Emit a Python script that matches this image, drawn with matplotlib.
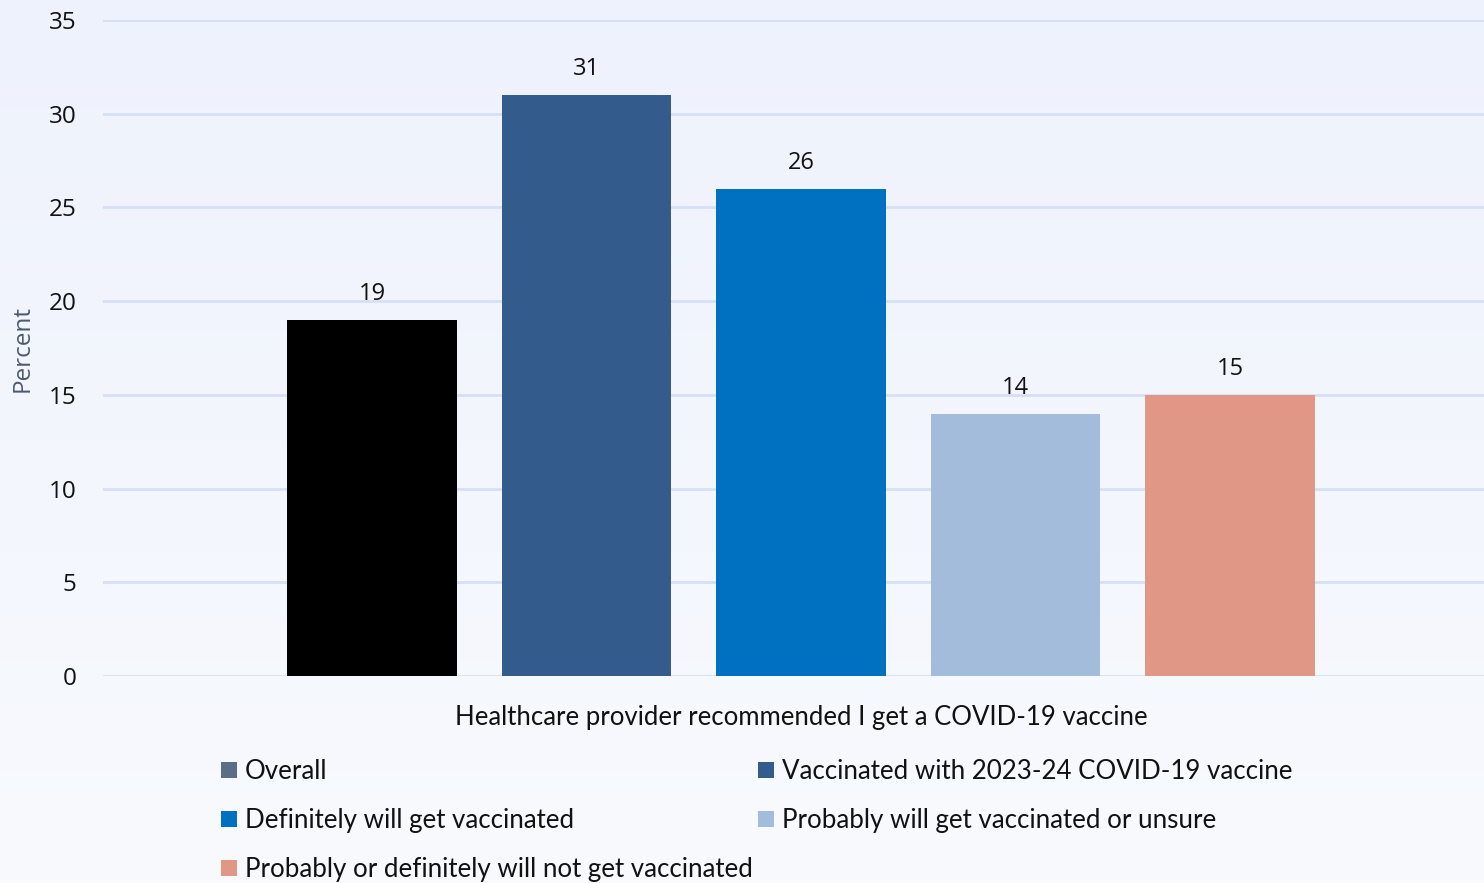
import matplotlib.pyplot as plt
import numpy as np
from matplotlib.colors import LinearSegmentedColormap
from matplotlib.patches import Patch

# data
category = 'Healthcare provider recommended I get a COVID-19 vaccine'
groups = ['Overall',
          'Vaccinated with 2023-24 COVID-19 vaccine',
          'Definitely will get vaccinated',
          'Probably will get vaccinated or unsure',
          'Probably or definitely will not get vaccinated']
values = [19, 31, 26, 14, 15]
bar_colors = ['#000000', '#335c8d', '#0070c0', '#a3bcdc', '#e09785']
legend_colors = ['#5a6e87', '#335c8d', '#0070c0', '#a3bcdc', '#e09785']
yticks = [0, 5, 10, 15, 20, 25, 30, 35]

fig = plt.figure(figsize=(14.84, 8.83), dpi=100)

# background gradient
bg = fig.add_axes([0, 0, 1, 1], zorder=-10)
grad = np.linspace(0, 1, 256).reshape(-1, 1)
cm_bg = LinearSegmentedColormap.from_list('bg', ['#eef2fc', '#f8fafe'])
bg.imshow(grad, aspect='auto', cmap=cm_bg, extent=[0, 1, 0, 1])
bg.axis('off')

ax = fig.add_axes([103/1484, (883-676)/883, (1499-103)/1484, (676-20)/883])
ax.set_facecolor('none')

offsets = np.arange(len(values)) - 2
w = 0.788
ax.bar(offsets, values, width=w, color=bar_colors, zorder=3)
for x, v in zip(offsets, values):
    ax.annotate(str(v), (x, v), xytext=(0, 10), textcoords='offset points',
                ha='center', va='bottom', fontsize=17, family='Open Sans', color='#111111')

ax.set_xlim(-3.254, 3.254)
ax.set_ylim(0, 35)
ax.set_yticks(yticks)
ax.yaxis.grid(True, color='#d5e0f4', linewidth=2, zorder=0)
ax.set_axisbelow(True)
for s in ax.spines.values():
    s.set_visible(False)
ax.tick_params(axis='y', length=0, pad=19, labelsize=17.5, labelcolor='#111111')
for t in ax.get_yticklabels():
    t.set_family('Open Sans')
ax.set_xticks([0])
ax.set_xticklabels([category], fontsize=18.5, family='Lato', color='#111111')
ax.tick_params(axis='x', length=0, pad=21)
ax.set_ylabel('Percent', fontsize=17.5, family='Open Sans', color='#4a5a70', labelpad=10)

# legend, column-first order
handles = [Patch(facecolor=c) for c in legend_colors]
order = [0, 2, 4, 1, 3]
leg = fig.legend([handles[i] for i in order], [groups[i] for i in order],
                 ncol=2, loc='upper left', bbox_to_anchor=(221/1484, 1 - 759/883),
                 frameon=False, prop={'family': 'Lato', 'size': 18.6},
                 handlelength=0.62, handleheight=0.62, handletextpad=0.3,
                 labelspacing=0.93, columnspacing=0.2, borderaxespad=0, borderpad=0)
for t in leg.get_texts():
    t.set_color('#111111')

fig.savefig('out.png', dpi=100)
